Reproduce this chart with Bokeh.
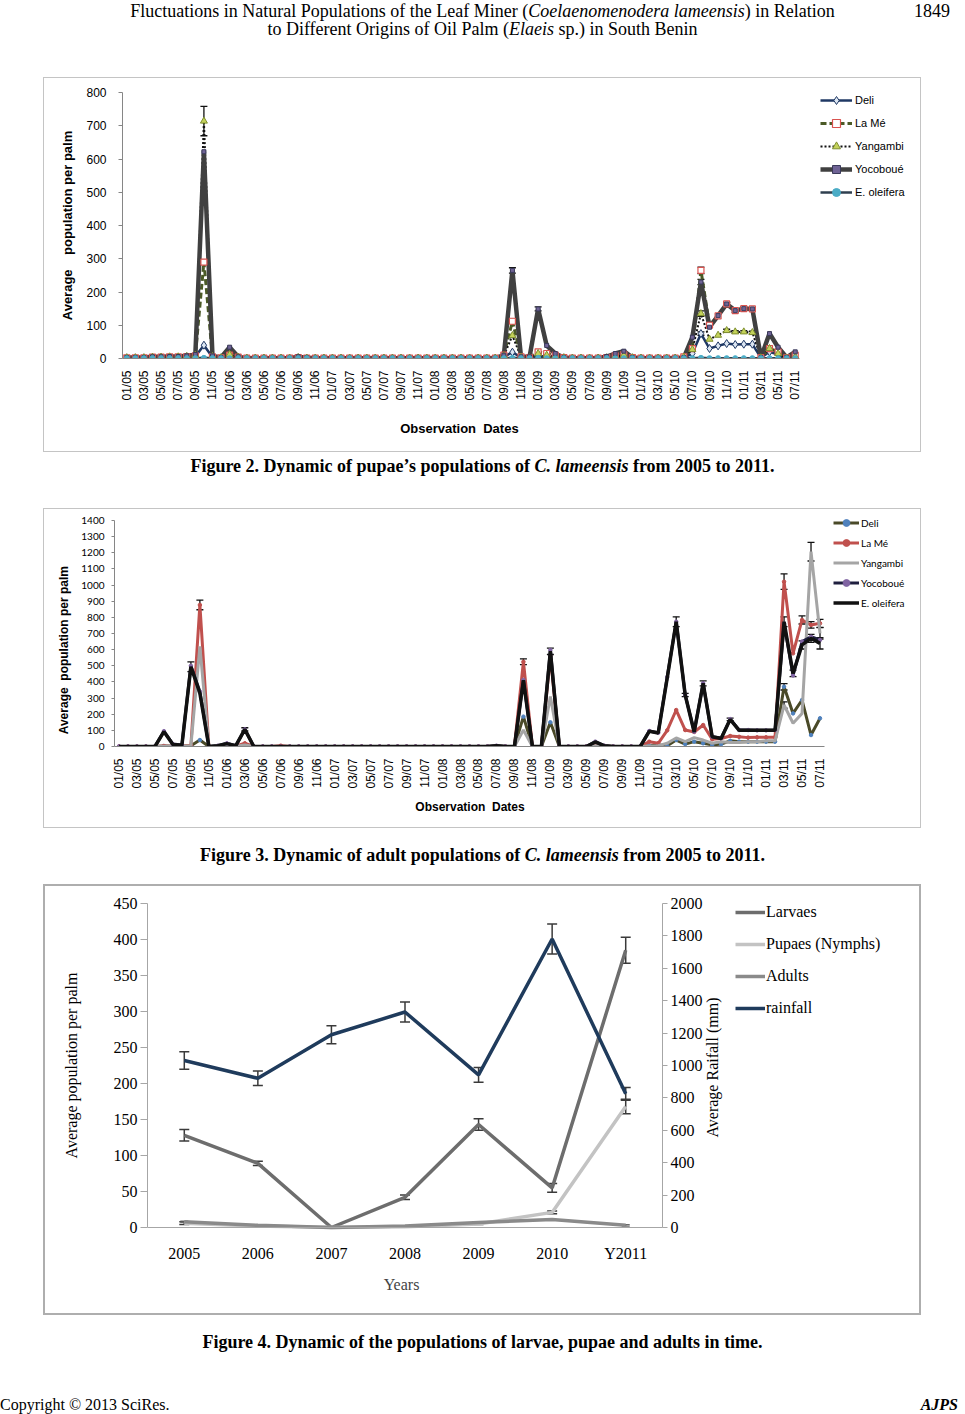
import math
from bokeh.plotting import figure
from bokeh.models import (ColumnDataSource, Range1d, LinearAxis, FixedTicker, Legend, LegendItem,
                          Whisker, TeeHead, Div, Label)
from bokeh.layouts import column
from bokeh.embed import file_html
from bokeh.resources import INLINE

ARIAL = "Liberation Sans"
TIMES = "Liberation Serif"
CALIBRI = "Lato"
NB = "\u00a0"

# ---------------- data: Figure 2 (pupae) and Figure 3 (adults), monthly 01/05 .. 07/11
months = list(range(79))
tick_pos = list(range(0, 79, 2))
date_labels = ["01/05", "03/05", "05/05", "07/05", "09/05", "11/05",
               "01/06", "03/06", "05/06", "07/06", "09/06", "11/06",
               "01/07", "03/07", "05/07", "07/07", "09/07", "11/07",
               "01/08", "03/08", "05/08", "07/08", "09/08", "11/08",
               "01/09", "03/09", "05/09", "07/09", "09/09", "11/09",
               "01/10", "03/10", "05/10", "07/10", "09/10", "11/10",
               "01/11", "03/11", "05/11", "07/11"]
origins = ["Deli", "La Mé", "Yangambi", "Yocoboué", "E. oleifera"]

deli2 = [2, 2, 2, 3, 3, 4, 4, 5, 6, 40, 4, 2,
         8, 3, 1, 1, 1, 1, 1, 1, 2, 1, 1, 1,
         1, 1, 1, 1, 1, 1, 1, 1, 1, 1, 1, 1,
         1, 1, 1, 1, 1, 1, 1, 1, 5, 19, 3, 2,
         8, 5, 4, 2, 1, 1, 1, 1, 2, 3, 5, 2,
         1, 1, 1, 1, 1, 3, 15, 75, 30, 38, 45, 42,
         43, 43, 2, 20, 12, 1, 3]
lame2 = [2, 2, 2, 4, 4, 5, 5, 6, 8, 290, 5, 2,
         10, 4, 1, 1, 1, 1, 1, 1, 3, 1, 1, 1,
         1, 1, 1, 1, 1, 1, 1, 1, 1, 1, 1, 1,
         1, 1, 1, 1, 1, 1, 1, 1, 10, 112, 5, 3,
         20, 15, 10, 3, 1, 1, 1, 1, 3, 8, 12, 3,
         1, 1, 1, 1, 1, 5, 30, 265, 100, 128, 164, 144,
         150, 149, 3, 30, 20, 2, 10]
yang2 = [2, 2, 2, 4, 4, 5, 5, 6, 10, 714, 6, 2,
         12, 4, 1, 1, 1, 1, 1, 1, 3, 1, 1, 1,
         1, 1, 1, 1, 1, 1, 1, 1, 1, 1, 1, 1,
         1, 1, 1, 1, 1, 1, 1, 1, 8, 69, 4, 2,
         15, 10, 6, 2, 1, 1, 1, 1, 2, 6, 10, 2,
         1, 1, 1, 1, 1, 4, 27, 135, 58, 70, 84, 80,
         80, 78, 2, 30, 15, 1, 5]
yoco2 = [3, 3, 3, 5, 5, 6, 6, 8, 12, 622, 8, 3,
         34, 5, 1, 1, 1, 1, 1, 1, 5, 2, 1, 1,
         1, 1, 1, 1, 1, 1, 1, 1, 1, 1, 1, 1,
         1, 1, 1, 1, 1, 1, 1, 1, 10, 265, 5, 5,
         149, 39, 15, 3, 1, 1, 1, 1, 6, 15, 22, 3,
         1, 1, 1, 1, 1, 3, 64, 230, 94, 129, 164, 144,
         150, 149, 3, 75, 34, 3, 20]
eol2 = [1, 1, 1, 1, 1, 1, 1, 1, 1, 2, 1, 1,
        1, 1, 1, 1, 1, 1, 1, 1, 1, 1, 1, 1,
        1, 1, 1, 1, 1, 1, 1, 1, 1, 1, 1, 1,
        1, 1, 1, 1, 1, 1, 1, 1, 1, 2, 1, 1,
        2, 1, 1, 1, 1, 1, 1, 1, 1, 1, 1, 1,
        1, 1, 1, 1, 1, 1, 1, 2, 1, 1, 1, 1,
        1, 1, 1, 1, 1, 1, 1]
# sparse error bars (month index, +/- error)
deli2_err_i, deli2_err = [67], [5]
lame2_err_i, lame2_err = [9, 45, 67, 70, 71, 72, 73], [6, 6, 10, 4, 4, 4, 4]
yang2_err_i, yang2_err = [9, 67, 70, 71, 72, 73], [44, 8, 4, 4, 4, 4]
yoco2_err_i, yoco2_err = [45, 48, 67, 70, 71, 72, 73], [8, 6, 8, 5, 5, 5, 5]

deli3 = [0, 0, 0, 0, 0, 3, 2, 1, 5, 40, 0, 1,
         5, 2, 3, 0, 0, 0, 0, 0, 0, 0, 0, 0,
         0, 0, 0, 0, 0, 0, 0, 0, 0, 0, 0, 0,
         0, 0, 0, 0, 0, 0, 1, 0, 0, 185, 0, 0,
         150, 0, 0, 0, 0, 8, 2, 0, 0, 0, 0, 5,
         10, 5, 40, 15, 30, 20, 10, 15, 35, 30, 30, 30,
         30, 30, 370, 205, 288, 71, 175]
lame3 = [0, 0, 0, 0, 0, 3, 2, 1, 5, 877, 0, 1,
         5, 2, 20, 0, 0, 0, 5, 0, 0, 0, 0, 0,
         0, 0, 0, 0, 0, 0, 0, 0, 0, 0, 0, 0,
         0, 0, 0, 0, 0, 0, 2, 0, 0, 525, 0, 0,
         560, 0, 0, 0, 0, 10, 3, 0, 0, 0, 0, 30,
         20, 100, 226, 102, 90, 133, 45, 50, 65, 60, 55, 57,
         57, 58, 1021, 577, 784, 753, 763]
yang3 = [0, 0, 0, 0, 0, 2, 1, 0, 3, 620, 0, 0,
         3, 1, 10, 0, 0, 0, 0, 0, 0, 0, 0, 0,
         0, 0, 0, 0, 0, 0, 0, 0, 0, 0, 0, 0,
         0, 0, 0, 0, 0, 0, 1, 0, 0, 102, 0, 0,
         309, 0, 0, 0, 0, 5, 1, 0, 0, 0, 0, 3,
         5, 20, 53, 30, 55, 40, 20, 30, 25, 25, 30, 30,
         35, 35, 257, 144, 205, 1207, 701]
yoco3 = [0, 0, 0, 0, 0, 95, 15, 10, 500, 340, 0, 5,
         20, 5, 106, 0, 0, 0, 0, 0, 0, 0, 0, 0,
         0, 0, 0, 0, 0, 0, 0, 0, 0, 0, 0, 0,
         0, 0, 0, 0, 0, 0, 5, 0, 0, 412, 0, 0,
         598, 0, 0, 0, 0, 30, 5, 0, 0, 0, 0, 96,
         85, 430, 773, 319, 92, 391, 61, 52, 170, 102, 102, 100,
         100, 102, 760, 440, 650, 680, 660]
eol3 = [0, 0, 0, 0, 0, 92, 12, 8, 494, 330, 0, 5,
        18, 5, 106, 0, 0, 0, 0, 0, 0, 0, 0, 0,
        0, 0, 0, 0, 0, 0, 0, 0, 0, 0, 0, 0,
        0, 0, 0, 0, 0, 0, 4, 0, 0, 410, 0, 0,
        590, 0, 0, 0, 0, 28, 4, 0, 0, 0, 0, 94,
        84, 425, 773, 319, 90, 391, 60, 50, 168, 100, 100, 100,
        100, 100, 773, 453, 629, 670, 639]
deli3_err_i, deli3_err = [74], [20]
lame3_err_i, lame3_err = [9, 45, 74, 76, 77, 78], [30, 18, 48, 25, 20, 25]
yang3_err_i, yang3_err = [74, 77, 78], [20, 58, 35]
eol3_err_i, eol3_err = [8, 14, 48, 62, 63, 65, 68, 74, 75, 76, 77, 78], [30, 10, 20, 30, 10, 15, 8, 30, 20, 25, 25, 35]

# ---------------- data: Figure 4 (yearly)
years = ["2005", "2006", "2007", "2008", "2009", "2010", "Y2011"]
year_idx = list(range(len(years)))
larvae = [128, 89, 0, 42, 143, 55, 385]
larvae_err = [8, 3, 0, 3, 8, 6, 18]
pupae = [6, 2, 0, 1, 5, 21, 168]
pupae_err = [2, 0, 0, 0, 1, 2, 10]
adults = [8, 3, 0, 2, 7, 11, 3]
adults_err = [1, 0, 0, 0, 1, 1, 1]
rainfall = [1031, 921, 1190, 1330, 942, 1781, 825]
rainfall_err = [54, 45, 55, 62, 45, 93, 39]


def no_align(p):
    if "frame_align" in p.properties():
        p.frame_align = False


def add_err(p, xs, ys, es, color, size, width, y_range_name="default"):
    src = ColumnDataSource(dict(base=xs, upper=[y + e for y, e in zip(ys, es)],
                                lower=[y - e for y, e in zip(ys, es)]))
    w = Whisker(source=src, base="base", upper="upper", lower="lower",
                line_color=color, line_width=width,
                upper_head=TeeHead(size=size, line_color=color, line_width=width),
                lower_head=TeeHead(size=size, line_color=color, line_width=width),
                y_range_name=y_range_name)
    p.add_layout(w)


def sparse_err(p, series, idx, errs, color="#111111", size=7, width=1.3):
    add_err(p, idx, [series[i] for i in idx], errs, color, size, width)


def monthly_axes(p, tick_font, tick_size, ylab, ylab_size, ylab_standoff, ytick_standoff,
                 xlab, xlab_standoff, ytick_out, ybounds):
    p.grid.visible = False
    ax = p.xaxis[0]
    ax.bounds = (-0.5, 78.5)
    ax.ticker = FixedTicker(ticks=tick_pos)
    ax.major_label_overrides = {t: lab for t, lab in zip(tick_pos, date_labels)}
    ax.major_label_orientation = math.pi / 2
    ax.major_label_text_font = ARIAL
    ax.major_label_text_font_size = "12px"
    ax.major_label_text_color = "#000000"
    ax.major_label_standoff = 6
    ax.major_tick_line_color = None
    ax.minor_tick_line_color = None
    ax.axis_line_color = "#868686"
    ax.axis_label = xlab
    ax.axis_label_text_font = ARIAL
    ax.axis_label_text_font_style = "bold"
    ax.axis_label_text_font_size = ylab_size
    ax.axis_label_text_color = "#000000"
    ax.axis_label_standoff = xlab_standoff
    ay = p.yaxis[0]
    ay.bounds = ybounds
    ay.major_label_text_font = tick_font
    ay.major_label_text_font_size = tick_size
    ay.major_label_text_color = "#000000"
    ay.major_label_standoff = ytick_standoff
    ay.major_tick_in = 0
    ay.major_tick_out = ytick_out
    ay.major_tick_line_color = "#868686"
    ay.minor_tick_line_color = None
    ay.axis_line_color = "#868686"
    ay.axis_label = ylab
    ay.axis_label_text_font = ARIAL
    ay.axis_label_text_font_style = "bold"
    ay.axis_label_text_font_size = ylab_size
    ay.axis_label_text_color = "#000000"
    ay.axis_label_standoff = ylab_standoff


def make_legend(p, items, loc, font, size, gw, gh, spacing, standoff):
    leg = Legend(items=items, location=loc, orientation="vertical",
                 label_text_font=font, label_text_font_size=size, label_text_color="#000000",
                 glyph_width=gw, glyph_height=gh, label_height=gh, spacing=spacing,
                 label_standoff=standoff, padding=0, margin=0,
                 border_line_color=None, background_fill_alpha=0)
    p.add_layout(leg, "center")


# ======================= Figure 2 (frame widened to hold the legend; axis limited by bounds)
p2 = figure(width=878, height=375, x_range=Range1d(-0.5, -0.5 + 79 * 793 / 677),
            y_range=Range1d(0, 800),
            output_backend="svg", toolbar_location=None,
            min_border_left=79, min_border_right=6, min_border_top=15, min_border_bottom=94,
            background_fill_color=None, border_fill_color=None, outline_line_color=None,
            margin=(0, 0, 0, 35), styles={"outline": "1px solid #c4c4c4", "outline-offset": "-1px"})
no_align(p2)
p2.yaxis.ticker = FixedTicker(ticks=[0, 100, 200, 300, 400, 500, 600, 700, 800])
monthly_axes(p2, ARIAL, "12px", "Average" + NB * 4 + "population per palm", "13px", 8, 12,
             "Observation" + NB * 2 + "Dates" + NB * 33, 17, 4, (0, 800))

src2 = ColumnDataSource(dict(x=months, deli=deli2, lame=lame2, yang=yang2, yoco=yoco2, eol=eol2))
l_deli = p2.line("x", "deli", source=src2, line_color="#1f3864", line_width=2.5)
l_lame = p2.line("x", "lame", source=src2, line_color="#4b5a26", line_width=3, line_dash="6 3")
l_yang = p2.line("x", "yang", source=src2, line_color="#111111", line_width=2, line_dash="2 2")
l_yoco = p2.line("x", "yoco", source=src2, line_color="#404040", line_width=4.5)
l_eol = p2.line("x", "eol", source=src2, line_color="#2f3f4f", line_width=2.5)
m_deli = p2.scatter("x", "deli", source=src2, marker="diamond", size=8,
                    fill_color="#dce6f2", line_color="#1f3864", line_width=1)
m_lame = p2.scatter("x", "lame", source=src2, marker="square", size=6,
                    fill_color="#ffffff", line_color="#d9534f", line_width=1.2)
m_yang = p2.scatter("x", "yang", source=src2, marker="triangle", size=7,
                    fill_color="#c4d25a", line_color="#7f8f2f", line_width=1)
m_yoco = p2.scatter("x", "yoco", source=src2, marker="square", size=4,
                    fill_color="#6f6395", line_color="#3a3a5a", line_width=1)
m_eol = p2.scatter("x", "eol", source=src2, marker="circle", size=5,
                   fill_color="#4bacc6", line_color="#4bacc6", line_width=1)
sparse_err(p2, deli2, deli2_err_i, deli2_err)
sparse_err(p2, lame2, lame2_err_i, lame2_err)
sparse_err(p2, yang2, yang2_err_i, yang2_err)
sparse_err(p2, yoco2, yoco2_err_i, yoco2_err)
make_legend(p2, [LegendItem(label=origins[0], renderers=[l_deli, m_deli]),
                 LegendItem(label=origins[1], renderers=[l_lame, m_lame]),
                 LegendItem(label=origins[2], renderers=[l_yang, m_yang]),
                 LegendItem(label=origins[3], renderers=[l_yoco, m_yoco]),
                 LegendItem(label=origins[4], renderers=[l_eol, m_eol])],
            (698, 156), ARIAL, "11px", 32, 20, 3, 3)

# ======================= Figure 3 (frame also raised a little so the legend fits inside it)
p3 = figure(width=878, height=320, x_range=Range1d(-0.5, -0.5 + 79 * 801 / 710),
            y_range=Range1d(0, 1400 * 236 / 226),
            output_backend="svg", toolbar_location=None,
            min_border_left=71, min_border_right=6, min_border_top=2, min_border_bottom=82,
            background_fill_color=None, border_fill_color=None, outline_line_color=None,
            margin=(0, 0, 0, 35), styles={"outline": "1px solid #c4c4c4", "outline-offset": "-1px"})
no_align(p3)
p3.yaxis.ticker = FixedTicker(ticks=[0, 100, 200, 300, 400, 500, 600, 700, 800, 900, 1000,
                                     1100, 1200, 1300, 1400])
monthly_axes(p3, CALIBRI, "10px", "Average" + NB + " population per palm" + NB * 13, "12px", 7, 7,
             "Observation" + NB * 2 + "Dates" + NB * 27, 8, 3, (0, 1400))

src3 = ColumnDataSource(dict(x=months, deli=deli3, lame=lame3, yang=yang3, yoco=yoco3, eol=eol3))
l3_deli = p3.line("x", "deli", source=src3, line_color="#4a4a28", line_width=3)
m3_deli = p3.scatter("x", "deli", source=src3, marker="circle", size=3.5,
                     fill_color="#4f81bd", line_color="#4f81bd")
l3_lame = p3.line("x", "lame", source=src3, line_color="#c0504d", line_width=3)
m3_lame = p3.scatter("x", "lame", source=src3, marker="circle", size=3.5,
                     fill_color="#c0504d", line_color="#c0504d")
l3_yang = p3.line("x", "yang", source=src3, line_color="#a5a5a5", line_width=3)
l3_yoco = p3.line("x", "yoco", source=src3, line_color="#1f1f3f", line_width=3)
m3_yoco = p3.scatter("x", "yoco", source=src3, marker="circle", size=3.5,
                     fill_color="#8064a2", line_color="#8064a2")
l3_eol = p3.line("x", "eol", source=src3, line_color="#111111", line_width=3.5)
sparse_err(p3, deli3, deli3_err_i, deli3_err)
sparse_err(p3, lame3, lame3_err_i, lame3_err)
sparse_err(p3, yang3, yang3_err_i, yang3_err)
sparse_err(p3, eol3, eol3_err_i, eol3_err)
make_legend(p3, [LegendItem(label=origins[0], renderers=[l3_deli, m3_deli]),
                 LegendItem(label=origins[1], renderers=[l3_lame, m3_lame]),
                 LegendItem(label=origins[2], renderers=[l3_yang]),
                 LegendItem(label=origins[3], renderers=[l3_yoco, m3_yoco]),
                 LegendItem(label=origins[4], renderers=[l3_eol])],
            (719, 135), CALIBRI, "10px", 26, 17, 3, 2)

# ======================= Figure 4 (numeric x with year labels; right axis fixed at the data edge;
# frame padded 10px top and bottom so the end tick labels of the fixed axis are not clipped)
pad_units = 10 * 450 / 324
p4 = figure(width=878, height=431, x_range=Range1d(-0.5, -0.5 + 7 * 768 / 515),
            y_range=Range1d(-pad_units, 450 + pad_units),
            output_backend="svg", toolbar_location=None,
            min_border_left=104, min_border_right=6, min_border_top=9, min_border_bottom=78,
            background_fill_color=None, border_fill_color=None, outline_line_color=None,
            margin=(0, 0, 0, 35), styles={"outline": "2px solid #aeaeae", "outline-offset": "-2px"})
no_align(p4)
p4.extra_y_ranges = {"rain": Range1d(-pad_units * 2000 / 450, 2000 + pad_units * 2000 / 450)}
p4.grid.visible = False
ay4 = p4.yaxis[0]
ay4.bounds = (0, 450)
ay4.ticker = FixedTicker(ticks=[0, 50, 100, 150, 200, 250, 300, 350, 400, 450])
ay4.axis_label = "Average population per palm"
ay4.major_label_text_font = TIMES
ay4.major_label_text_font_size = "16px"
ay4.major_label_text_color = "#000000"
ay4.major_label_standoff = 3
ay4.major_tick_in = 0
ay4.major_tick_out = 7
ay4.major_tick_line_color = "#a6a6a6"
ay4.minor_tick_line_color = None
ay4.axis_line_color = "#a6a6a6"
ay4.axis_label_text_font = TIMES
ay4.axis_label_text_font_size = "16px"
ay4.axis_label_text_font_style = "normal"
ay4.axis_label_text_color = "#000000"
ay4.axis_label_standoff = 31
rax = LinearAxis(y_range_name="rain", fixed_location=len(years) - 0.5, bounds=(0, 2000),
                 ticker=FixedTicker(ticks=[0, 200, 400, 600, 800, 1000, 1200, 1400, 1600, 1800, 2000]),
                 major_label_text_font=TIMES, major_label_text_font_size="16px",
                 major_label_text_color="#000000", major_label_standoff=3,
                 major_tick_in=0, major_tick_out=5, major_tick_line_color="#a6a6a6",
                 minor_tick_line_color=None, axis_line_color="#a6a6a6")
p4.add_layout(rax, "right")
# the x axis line at value 0 (inside the padded frame)
base_axis = LinearAxis(fixed_location=0, bounds=(-0.5, len(years) - 0.5), ticker=FixedTicker(ticks=[]),
                       axis_line_color="#a6a6a6", major_tick_line_color=None, minor_tick_line_color=None)
p4.add_layout(base_axis, "below")
# title of the rainfall axis, reading bottom-to-top like the reference
p4.add_layout(Label(x=565, y=170, x_units="screen", y_units="screen", text="Average Raifall (mm)",
                    angle=math.pi / 2, angle_units="rad", text_align="center", text_baseline="middle",
                    text_font=TIMES, text_font_size="16px", text_color="#000000"))
ax4 = p4.xaxis[0]
ax4.bounds = (-0.5, len(years) - 0.5)
ax4.ticker = FixedTicker(ticks=year_idx)
ax4.major_label_overrides = {i: y for i, y in zip(year_idx, years)}
ax4.axis_label = "Years" + NB * 65
ax4.major_label_text_font = TIMES
ax4.major_label_text_font_size = "16px"
ax4.major_label_text_color = "#000000"
ax4.major_label_standoff = 7
ax4.major_tick_in = 0
ax4.major_tick_out = 0
ax4.major_tick_line_color = None
ax4.minor_tick_line_color = None
ax4.axis_line_color = None
ax4.axis_label_text_font = TIMES
ax4.axis_label_text_font_size = "16px"
ax4.axis_label_text_font_style = "normal"
ax4.axis_label_standoff = 11

src4 = ColumnDataSource(dict(x=year_idx, larvae=larvae, pupae=pupae, adults=adults, rain=rainfall))
r_larvae = p4.line("x", "larvae", source=src4, line_color="#6d6d6d", line_width=3.5)
r_pupae = p4.line("x", "pupae", source=src4, line_color="#c3c3c3", line_width=3.5)
r_adults = p4.line("x", "adults", source=src4, line_color="#8a8a8a", line_width=3.5)
r_rain = p4.line("x", "rain", source=src4, line_color="#1f3b5c", line_width=3.5, y_range_name="rain")
add_err(p4, year_idx, larvae, larvae_err, "#3a3a3a", 10, 1.5)
add_err(p4, year_idx, pupae, pupae_err, "#3a3a3a", 10, 1.5)
add_err(p4, year_idx, adults, adults_err, "#6a6a6a", 8, 1.2)
add_err(p4, year_idx, rainfall, rainfall_err, "#3a3a3a", 10, 1.5, y_range_name="rain")
make_legend(p4, [LegendItem(label="Larvaes", renderers=[r_larvae]),
                 LegendItem(label="Pupaes (Nymphs)", renderers=[r_pupae]),
                 LegendItem(label="Adults", renderers=[r_adults]),
                 LegendItem(label="rainfall", renderers=[r_rain])],
            (588, 215), TIMES, "16px", 30, 28, 4, 1)

# ======================= text blocks
SERIF = "font-family:'Liberation Serif',serif;color:#000;"
header = Div(width=949, height=69, margin=(0, 0, 0, 0), text=(
    "<div style=\"position:relative;top:-6px;width:949px;" + SERIF +
    "font-size:18px;line-height:18px;\">"
    "<div style=\"text-align:center;\">Fluctuations in Natural Populations of the Leaf Miner "
    "(<i>Coelaenomenodera lameensis</i>) in Relation<br>to Different Origins of Oil Palm "
    "(<i>Elaeis</i> sp.) in South Benin</div>"
    "<div style=\"position:absolute;right:7px;top:0;\">1849</div></div>"))


def caption(text, h, pad):
    return Div(width=949, height=h, margin=(0, 0, 0, 0), text=(
        "<div style=\"width:949px;text-align:center;font-weight:bold;font-size:18px;line-height:18px;"
        + SERIF + "padding-top:%dpx;\">%s</div>" % (pad, text)))


cap2 = caption("Figure 2. Dynamic of pupae’s populations of <i>C. lameensis</i> from 2005 to 2011.", 56, 5)
cap3 = caption("Figure 3. Dynamic of adult populations of <i>C. lameensis</i> from 2005 to 2011.", 56, 18)
cap4 = caption("Figure 4. Dynamic of the populations of larvae, pupae and adults in time.", 73, 18)
footer = Div(width=949, height=24, margin=(0, 0, 0, 0), text=(
    "<div style=\"position:relative;left:-8px;width:957px;font-size:16px;line-height:18px;padding-top:8px;"
    + SERIF + "\">Copyright © 2013 SciRes.<span style=\"position:absolute;right:-1px;"
    "font-weight:bold;font-style:italic;\">AJPS</span></div>"))

page = column(header, p2, cap2, p3, cap3, p4, cap4, footer, spacing=0, margin=(8, 0, 0, 8))
open("out.html", "w").write(file_html(page, INLINE))
